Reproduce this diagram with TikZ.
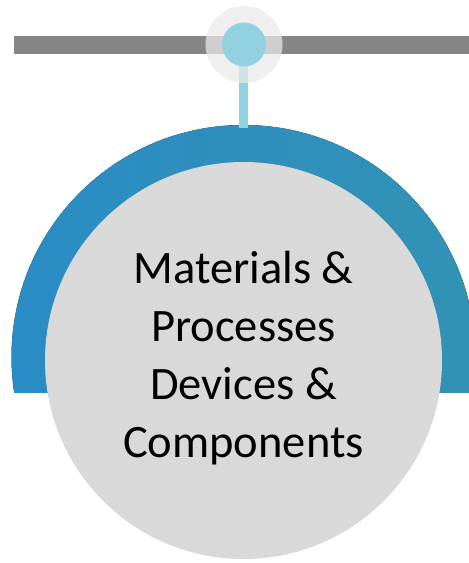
\documentclass[tikz,border=0pt]{standalone}
\usepackage{fontspec}
\setmainfont{Carlito}
\definecolor{railgray}{RGB}{134,134,134}
\definecolor{arcleft}{RGB}{42,140,197}
\definecolor{arcright}{RGB}{50,146,180}
\definecolor{pinblue}{RGB}{146,210,224}
\definecolor{halogray}{RGB}{233,233,233}
\definecolor{discgray}{RGB}{217,217,217}
\tikzset{
  railbar/.style={fill=railgray, draw=none},
  pinfill/.style={fill=pinblue, draw=none},
  halofill/.style={fill=halogray, fill opacity=0.73, draw=none},
  discfill/.style={fill=discgray, draw=none},
  labeltext/.style={font=\fontsize{46.5}{58}\selectfont, text=black, align=center, inner sep=0pt}
}
\begin{document}
\begin{tikzpicture}[x=1pt, y=-1pt]
  \useasboundingbox (0,0) rectangle (469,563);
  % horizontal rail
  \fill[railbar] (14,35.5) rectangle (469,54);
  % blue dome, cut flat at its base
  \begin{scope}
    \clip (0,0) rectangle (469,392);
    \fill[left color=arcleft, right color=arcright, draw=none] (243.5,357) circle[radius=232];
  \end{scope}
  % stem from the pin down to the dome
  \fill[pinfill] (239,60) rectangle (248,128);
  % pin with its translucent halo
  \fill[halofill] (244,44.5) circle[radius=38.5];
  \fill[pinfill] (244,44.5) circle[radius=22];
  % grey disc carrying the label
  \fill[discfill] (243.5,360.5) circle[radius=198.5];
  % the base anchor sits on the last line
  \node[labeltext, anchor=base] (label) at (243.5,457)
    {Materials \&\\Processes\\Devices \&\\Components};
\end{tikzpicture}
\end{document}
